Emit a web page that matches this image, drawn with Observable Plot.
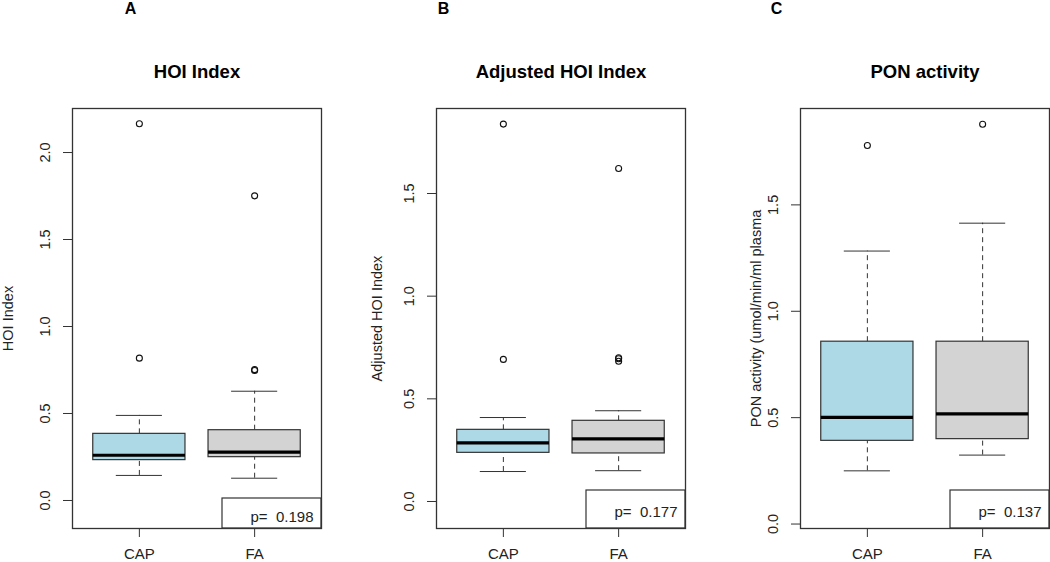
<!DOCTYPE html>
<html><head><meta charset="utf-8">
<script src="https://cdn.jsdelivr.net/npm/d3@7"></script>
<script src="https://cdn.jsdelivr.net/npm/@observablehq/plot@0.6"></script>
<style>
html,body{margin:0;padding:0;background:#fff;}
#chart{position:relative;width:1050px;height:562px;overflow:hidden;}
.panel{position:absolute;top:0;}
</style></head><body><div id="chart"></div>
<script>
// ---------- data ----------
const categories = ["CAP", "FA"];
const panelLetters = ["A", "B", "C"];
const panelTitles = ["HOI Index", "Adjusted HOI Index", "PON activity"];
const yLabels = ["HOI Index", "Adjusted HOI Index", "PON activity (umol/min/ml plasma"];
const pValues = ["0.198", "0.177", "0.137"];

// five-number summaries: [lower whisker, Q1, median, Q3, upper whisker]
const hoiCAP = [0.144, 0.232, 0.260, 0.383, 0.489];
const hoiFA  = [0.128, 0.249, 0.278, 0.404, 0.628];
const hoiOutCAP = [2.165, 0.818];
const hoiOutFA  = [1.751, 0.747, 0.752];
const hoiTicks = [0, 0.5, 1.0, 1.5, 2.0];

const adjCAP = [0.146, 0.237, 0.286, 0.349, 0.409];
const adjFA  = [0.150, 0.234, 0.305, 0.393, 0.442];
const adjOutCAP = [1.838, 0.692];
const adjOutFA  = [1.622, 0.683, 0.695, 0.700];
const adjTicks = [0, 0.5, 1.0, 1.5];

const ponCAP = [0.250, 0.391, 0.501, 0.857, 1.283];
const ponFA  = [0.324, 0.399, 0.518, 0.857, 1.414];
const ponOutCAP = [1.779];
const ponOutFA  = [1.879];
const ponTicks = [0, 0.5, 1.0, 1.5];

// ---------- styles / layout ----------
const boxFills = ["#ADD8E6", "#D3D3D3"];
const font = "'Liberation Sans', Arial, sans-serif";
const ink = "#222";
const lineCol = "#333";

const panels = [
  {summ: [hoiCAP, hoiFA], outs: [hoiOutCAP, hoiOutFA], ticks: hoiTicks, domain: [-0.161, 2.253],
   left: 0, ml: 72, mr: 29, ylabDx: -64, letterDx: 58, pH: 30, pDy: -6.5},
  {summ: [adjCAP, adjFA], outs: [adjOutCAP, adjOutFA], ticks: adjTicks, domain: [-0.1315, 1.914],
   left: 350, ml: 86, mr: 15, ylabDx: -59.5, letterDx: 7, pH: 38, pDy: -11.3},
  {summ: [ponCAP, ponFA], outs: [ponOutCAP, ponOutFA], ticks: ponTicks, domain: [-0.021, 1.953],
   left: 700, ml: 100, mr: 1, ylabDx: -44, letterDx: -24, pH: 38, pDy: -11.3}
];

const W = 350, H = 562, MT = 108, MB = 34, PBOXW = 99;
const chart = document.getElementById("chart");

panels.forEach((cfg, k) => {
  const boxes = categories.map((c, i) => ({
    cat: c, pos: i + 1,
    lw: cfg.summ[i][0], q1: cfg.summ[i][1], med: cfg.summ[i][2], q3: cfg.summ[i][3], uw: cfg.summ[i][4]
  }));
  const outliers = categories.flatMap((c, i) => cfg.outs[i].map(v => ({cat: c, pos: i + 1, v})));

  const pBox = () => {
    const r = document.createElementNS("http://www.w3.org/2000/svg", "rect");
    r.setAttribute("x", W - cfg.mr - PBOXW);
    r.setAttribute("y", H - MB - cfg.pH);
    r.setAttribute("width", PBOXW);
    r.setAttribute("height", cfg.pH);
    r.setAttribute("fill", "white");
    r.setAttribute("stroke", lineCol);
    r.setAttribute("stroke-width", 1.2);
    return r;
  };

  const p = Plot.plot({
    width: W, height: H,
    marginLeft: cfg.ml, marginRight: cfg.mr, marginTop: MT, marginBottom: MB,
    x: {domain: [0.42, 2.58]},
    y: {domain: cfg.domain},
    color: {type: "identity"},
    style: {fontFamily: font, fontSize: "14.5px", color: ink, background: "transparent", overflow: "visible"},
    marks: [
      Plot.ruleX(boxes, {x: "pos", y1: "q3", y2: "uw", stroke: lineCol, strokeDasharray: "5,4"}),
      Plot.ruleX(boxes, {x: "pos", y1: "lw", y2: "q1", stroke: lineCol, strokeDasharray: "5,4"}),
      Plot.ruleY(boxes, {y: "uw", x1: d => d.pos - 0.2, x2: d => d.pos + 0.2, stroke: lineCol}),
      Plot.ruleY(boxes, {y: "lw", x1: d => d.pos - 0.2, x2: d => d.pos + 0.2, stroke: lineCol}),
      Plot.rect(boxes, {x1: d => d.pos - 0.4, x2: d => d.pos + 0.4, y1: "q1", y2: "q3",
        fill: (d, i) => boxFills[i], stroke: lineCol, strokeWidth: 1.2}),
      Plot.ruleY(boxes, {y: "med", x1: d => d.pos - 0.4, x2: d => d.pos + 0.4, stroke: "#000", strokeWidth: 3.2}),
      Plot.dot(outliers, {x: "pos", y: "v", r: 3, stroke: "#111", strokeWidth: 1.1, fill: "none"}),
      pBox,
      Plot.text(["p=  " + pValues[k]], {frameAnchor: "bottom-right", dx: -8, dy: cfg.pDy,
        textAnchor: "end", lineAnchor: "bottom", fontSize: 15, fill: ink}),
      Plot.frame({stroke: lineCol, strokeWidth: 1.3}),
      Plot.axisX({ticks: [1, 2], tickFormat: d => categories[d - 1], tickSize: 9, tickPadding: 11,
        fontSize: 15, label: null, stroke: lineCol}),
      Plot.axisY({ticks: cfg.ticks, tickSize: 9, tickFormat: () => "", label: null, stroke: lineCol}),
      Plot.text(cfg.ticks, {y: d => d, text: d => d.toFixed(1), frameAnchor: "left", dx: -27,
        rotate: -90, textAnchor: "middle", lineAnchor: "middle", fontSize: 14.5, fill: ink}),
      Plot.text([yLabels[k]], {frameAnchor: "left", dx: cfg.ylabDx, rotate: -90,
        textAnchor: "middle", lineAnchor: "middle", fontSize: 14.5, fill: ink}),
      Plot.text([panelTitles[k]], {frameAnchor: "top", dy: -30.5, lineAnchor: "bottom",
        fontWeight: "bold", fontSize: 18.5, fill: "#000"}),
      Plot.text([panelLetters[k]], {frameAnchor: "top-left", dx: cfg.letterDx, dy: -95,
        lineAnchor: "bottom", textAnchor: "middle", fontWeight: "bold", fontSize: 16, fill: "#000"})
    ]
  });
  const holder = document.createElement("div");
  holder.className = "panel";
  holder.style.left = cfg.left + "px";
  holder.appendChild(p);
  chart.appendChild(holder);
});
</script>
</body></html>
